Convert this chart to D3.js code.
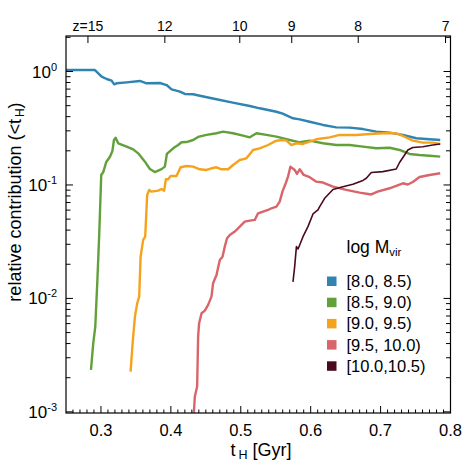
<!DOCTYPE html>
<html><head><meta charset="utf-8">
<script src="https://cdn.jsdelivr.net/npm/d3@7"></script>
<style>body{margin:0;background:#fff}svg{display:block;font-family:"Liberation Sans",Arial,sans-serif}</style>
</head><body><svg id="c" width="469" height="469"></svg>
<script>
// ---- data ----
const seriesLabels = ["[8.0, 8.5)", "[8.5, 9.0)", "[9.0, 9.5)", "[9.5, 10.0)", "[10.0,10.5)"];
const seriesColors = ["#2f84b0", "#62a03a", "#f5a21c", "#d9656a", "#4a0a1d"];
const xTicks = [0.3, 0.4, 0.5, 0.6, 0.7, 0.8];
const yTicks = [1e-3, 1e-2, 1e-1, 1];
const yExponents = ["-3", "-2", "-1", "0"];
const zTickT = [0.2814, 0.3914, 0.4986, 0.5729, 0.668, 0.7929];
const zTickLabels = ["z=15", "12", "10", "9", "8", "7"];

const blue = [[0.25,1.03],[0.2914,1.03],[0.301,0.90],[0.3081,0.859],[0.3153,0.83],[0.319,0.771],[0.3224,0.787],[0.3367,0.803],[0.3557,0.825],[0.3653,0.787],[0.3843,0.792],[0.3939,0.76],[0.401,0.697],[0.4129,0.664],[0.42,0.634],[0.4319,0.630],[0.4414,0.612],[0.4653,0.569],[0.4886,0.531],[0.5129,0.497],[0.5271,0.474],[0.551,0.442],[0.56,0.425],[0.5747,0.387],[0.5843,0.379],[0.5986,0.361],[0.6176,0.338],[0.6367,0.322],[0.6557,0.320],[0.6747,0.311],[0.6939,0.295],[0.7129,0.289],[0.7319,0.276],[0.751,0.258],[0.77,0.253],[0.7853,0.249]];
const green = [[0.2857,0.00234],[0.289,0.00403],[0.2919,0.00565],[0.2947,0.0136],[0.2976,0.0375],[0.3004,0.1225],[0.3033,0.130],[0.3076,0.1595],[0.3129,0.1775],[0.3164,0.1994],[0.3186,0.249],[0.321,0.261],[0.3247,0.233],[0.3367,0.2175],[0.3461,0.206],[0.3533,0.190],[0.3629,0.1604],[0.37,0.1383],[0.3771,0.130],[0.3867,0.138],[0.3914,0.145],[0.3943,0.1876],[0.4033,0.2105],[0.4104,0.225],[0.4153,0.2378],[0.4224,0.239],[0.4319,0.249],[0.439,0.265],[0.451,0.276],[0.4653,0.2855],[0.4747,0.295],[0.489,0.2855],[0.5033,0.272],[0.5129,0.263],[0.5224,0.2855],[0.5367,0.276],[0.551,0.2665],[0.57,0.249],[0.5843,0.2377],[0.5986,0.2456],[0.6176,0.233],[0.6367,0.225],[0.6557,0.225],[0.6747,0.2175],[0.6939,0.2105],[0.7129,0.213],[0.7271,0.2034],[0.7414,0.1876],[0.7557,0.1837],[0.77,0.181],[0.7853,0.1776]];
const orange = [[0.3424,0.00226],[0.3453,0.00403],[0.3486,0.00691],[0.3519,0.00907],[0.3547,0.01038],[0.3567,0.0233],[0.3604,0.0328],[0.3633,0.035],[0.3661,0.0816],[0.369,0.0904],[0.3724,0.0873],[0.3819,0.0891],[0.3867,0.0922],[0.3904,0.0891],[0.3929,0.1123],[0.3961,0.1123],[0.3996,0.120],[0.4081,0.120],[0.4139,0.1432],[0.4224,0.147],[0.4319,0.145],[0.4414,0.1375],[0.451,0.1356],[0.4581,0.1403],[0.4653,0.1432],[0.4724,0.1375],[0.4819,0.1375],[0.489,0.150],[0.4986,0.166],[0.5081,0.1718],[0.5176,0.2034],[0.5271,0.2105],[0.539,0.225],[0.551,0.2456],[0.5604,0.249],[0.5653,0.2456],[0.5724,0.225],[0.5796,0.233],[0.589,0.2297],[0.5986,0.2406],[0.6081,0.2527],[0.6271,0.263],[0.6414,0.276],[0.6653,0.276],[0.6843,0.2814],[0.7033,0.2855],[0.7224,0.2855],[0.7319,0.2703],[0.7461,0.2456],[0.7604,0.236],[0.7747,0.236],[0.7853,0.2297]];
const red = [[0.4329,0.00098],[0.4343,0.001364],[0.4376,0.00167],[0.439,0.0046],[0.4404,0.00605],[0.4439,0.0074],[0.4486,0.0078],[0.4533,0.00877],[0.4581,0.01038],[0.4604,0.0136],[0.4653,0.0161],[0.47,0.0218],[0.4739,0.0233],[0.4771,0.0286],[0.4804,0.0339],[0.4843,0.0363],[0.4914,0.0388],[0.4986,0.0429],[0.5057,0.0475],[0.5129,0.0485],[0.52,0.0492],[0.5247,0.0563],[0.5319,0.0582],[0.539,0.0602],[0.5439,0.0623],[0.551,0.0644],[0.5557,0.0713],[0.5596,0.0873],[0.5643,0.1035],[0.5676,0.1184],[0.571,0.145],[0.5771,0.1356],[0.5804,0.125],[0.5843,0.1375],[0.59,0.1225],[0.5986,0.117],[0.6081,0.107],[0.6176,0.105],[0.6319,0.0966],[0.651,0.0904],[0.67,0.0856],[0.6867,0.0825],[0.6957,0.0873],[0.7129,0.0935],[0.7319,0.1035],[0.739,0.101],[0.7461,0.1063],[0.7557,0.1176],[0.77,0.1225],[0.7853,0.1268]];
const maroon = [[0.5747,0.01397],[0.5771,0.01906],[0.5796,0.0286],[0.5819,0.0273],[0.5843,0.0296],[0.589,0.035],[0.5961,0.0429],[0.6033,0.0555],[0.6104,0.0602],[0.6129,0.0644],[0.62,0.0763],[0.6319,0.0913],[0.6461,0.0966],[0.6604,0.1014],[0.6747,0.1096],[0.6796,0.1146],[0.6867,0.1289],[0.7033,0.131],[0.7224,0.1383],[0.7271,0.1578],[0.7343,0.1837],[0.739,0.2034],[0.7461,0.214],[0.7604,0.2175],[0.7747,0.225],[0.7853,0.2297]];
const seriesData = [blue, green, orange, red, maroon];

// ---- layout ----
const L = 66, R = 450.5, T = 36, B = 413;
const svg = d3.select("#c");
const x = d3.scaleLinear().domain([0.25, 0.8]).range([L, R]);
const y = d3.scaleLog().domain([Math.pow(10, -3.01), Math.pow(10, 0.313)]).range([B, T]);

svg.append("defs").append("clipPath").attr("id", "clip")
  .append("rect").attr("x", L).attr("y", T).attr("width", R - L).attr("height", B - T);

const line = d3.line().x(d => x(d[0])).y(d => y(d[1]));
const g = svg.append("g").attr("clip-path", "url(#clip)");
seriesData.forEach((s, i) => {
  g.append("path").datum(s).attr("d", line).attr("fill", "none")
    .attr("stroke", seriesColors[i]).attr("stroke-width", i === 4 ? 1.6 : 2.4)
    .attr("stroke-linejoin", "round");
});

// frame
svg.append("rect").attr("x", L).attr("y", T).attr("width", R - L).attr("height", B - T)
  .attr("fill", "none").attr("stroke", "#000").attr("stroke-width", 1.2);

// bottom axis ticks (inward)
const minorX = d3.range(26, 80).map(v => v / 100).filter(v => Math.abs(v * 10 - Math.round(v * 10)) > 1e-6);
const tk = svg.append("g").attr("stroke", "#000").attr("stroke-width", 1);
minorX.forEach(v => tk.append("line").attr("x1", x(v)).attr("x2", x(v)).attr("y1", B).attr("y2", B - 3.5));
xTicks.forEach(v => tk.append("line").attr("x1", x(v)).attr("x2", x(v)).attr("y1", B).attr("y2", B - 7));
// top z ticks
zTickT.forEach(v => tk.append("line").attr("x1", x(v)).attr("x2", x(v)).attr("y1", T).attr("y2", T + 7));
// left/right log ticks
const minorY = [];
[-3, -2, -1, 0].forEach(e => { for (let k = 2; k <= 9; k++) { const v = k * Math.pow(10, e); if (v <= y.domain()[1]) minorY.push(v); } });
minorY.forEach(v => {
  tk.append("line").attr("x1", L).attr("x2", L + 4.5).attr("y1", y(v)).attr("y2", y(v));
  tk.append("line").attr("x1", R).attr("x2", R - 4.5).attr("y1", y(v)).attr("y2", y(v));
});
yTicks.forEach(v => {
  tk.append("line").attr("x1", L).attr("x2", L + 7).attr("y1", y(v)).attr("y2", y(v));
  tk.append("line").attr("x1", R).attr("x2", R - 7).attr("y1", y(v)).attr("y2", y(v));
});

// x tick labels
xTicks.forEach(v => svg.append("text").attr("x", x(v)).attr("y", 435.5).attr("text-anchor", "middle")
  .attr("font-size", 16.5).text(v.toFixed(1)));
// z labels
zTickT.forEach((v, i) => svg.append("text").attr("x", x(v)).attr("y", 30.5).attr("text-anchor", "middle")
  .attr("font-size", 14).text(zTickLabels[i]));
// y tick labels
yTicks.forEach((v, i) => {
  const t = svg.append("text").attr("x", 57).attr("y", y(v) + 6).attr("text-anchor", "end").attr("font-size", 17);
  t.append("tspan").text("10");
  t.append("tspan").attr("dy", -7).attr("font-size", 11).text(yExponents[i]);
});

// axis titles
const xt = svg.append("text").attr("x", 261).attr("y", 456).attr("text-anchor", "middle").attr("font-size", 18);
xt.append("tspan").text("t");
xt.append("tspan").attr("dy", 3).attr("dx", 3).attr("font-size", 12.5).text("H");
xt.append("tspan").attr("dy", -3).text(" [Gyr]");

const yt = svg.append("text").attr("transform", "translate(21,202) rotate(-90)").attr("text-anchor", "middle").attr("font-size", 18);
yt.append("tspan").text("relative contribution (<t");
yt.append("tspan").attr("dy", 3).attr("dx", 2).attr("font-size", 12).text("H");
yt.append("tspan").attr("dy", -3).text(")");

// legend
const lt = svg.append("text").attr("x", 346.5).attr("y", 253).attr("font-size", 17.5);
lt.append("tspan").text("log M");
lt.append("tspan").attr("dy", 3).attr("font-size", 11.5).text("vir");
seriesLabels.forEach((lab, i) => {
  const cy = 281 + i * 21.2;
  svg.append("rect").attr("x", 327).attr("y", cy - 4.5).attr("width", 9.5).attr("height", 9.5).attr("fill", seriesColors[i]);
  svg.append("text").attr("x", 346.5).attr("y", cy + 6).attr("font-size", 16.5).text(lab);
});
</script></body></html>
